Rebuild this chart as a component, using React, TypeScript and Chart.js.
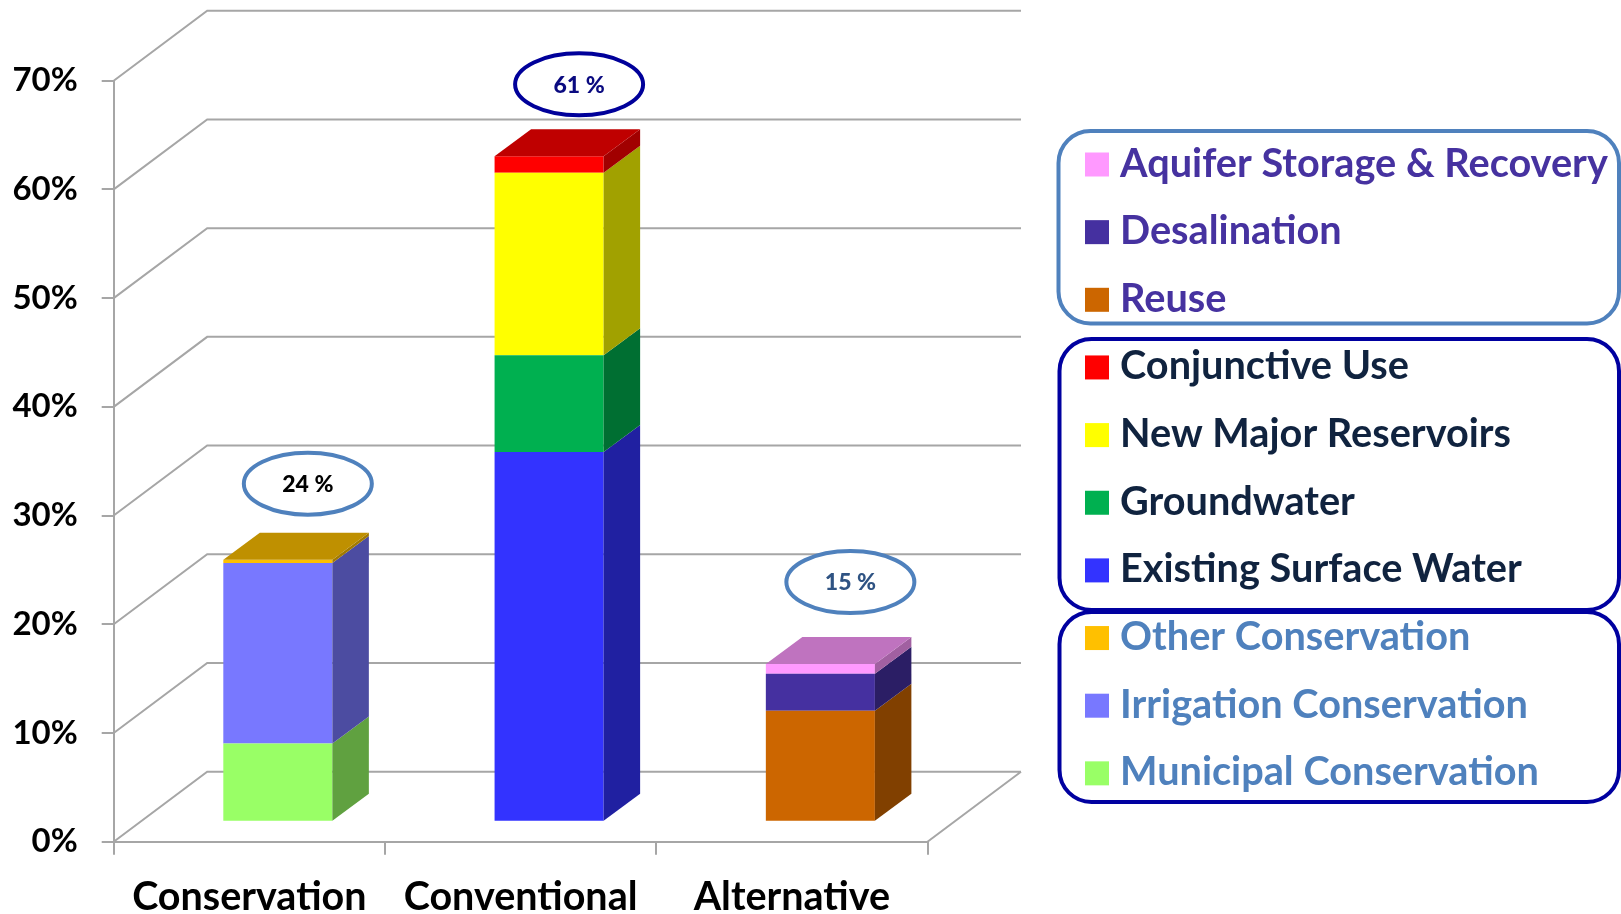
import React, { useEffect, useRef } from "react";
import { Chart, registerables } from "chart.js";

Chart.register(...registerables);

// ---------- data ----------
const categories = ["Conservation", "Conventional", "Alternative"];
const yTickValues = [0, 10, 20, 30, 40, 50, 60, 70];
const totalLabels = ["24 %", "61 %", "15 %"];

const municipalConservation = [7.2, 0, 0];
const irrigationConservation = [16.6, 0, 0];
const otherConservation = [0.3, 0, 0];
const existingSurfaceWater = [0, 34.0, 0];
const groundwater = [0, 8.9, 0];
const newMajorReservoirs = [0, 16.8, 0];
const conjunctiveUse = [0, 1.5, 0];
const reuse = [0, 0, 10.2];
const desalination = [0, 0, 3.4];
const aquiferStorageRecovery = [0, 0, 0.9];

const seriesNames = [
  "Municipal Conservation",
  "Irrigation Conservation",
  "Other Conservation",
  "Existing Surface Water",
  "Groundwater",
  "New Major Reservoirs",
  "Conjunctive Use",
  "Reuse",
  "Desalination",
  "Aquifer Storage & Recovery",
];
const seriesValues = [
  municipalConservation,
  irrigationConservation,
  otherConservation,
  existingSurfaceWater,
  groundwater,
  newMajorReservoirs,
  conjunctiveUse,
  reuse,
  desalination,
  aquiferStorageRecovery,
];
const seriesColors = [
  "#99FF66",
  "#7878FF",
  "#FFC000",
  "#3333FF",
  "#00B050",
  "#FFFF00",
  "#FF0000",
  "#CC6600",
  "#4530A0",
  "#FF99FF",
];

// legend groups (indices into series), top to bottom
const legendGroups = [
  [9, 8, 7],
  [6, 5, 4, 3],
  [2, 1, 0],
];

// ---------- styles ----------
const GRID = "#A6A6A6";
const DEPTH_X = 93.5;
const DEPTH_Y = -70;
const BAR_SHIFT_X = 28.5;
const BAR_SHIFT_Y = -20;
const SIDE_X = 36.5;
const SIDE_Y = -27;
const FONT = "Lato";

const ellipseStroke = ["#4F81BD", "#00009A", "#4F81BD"];
const ellipseText = ["#000000", "#0A0A80", "#2F5383"];
const ellipseDy = [-76, -72, -82];

const legendBoxes = [
  { x: 1058.5, y: 131, w: 560.5, h: 192.5, stroke: "#4F81BD", text: "#4632A0" },
  { x: 1059.5, y: 339, w: 559.5, h: 271, stroke: "#0000A0", text: "#10233F" },
  { x: 1059.5, y: 612, w: 559.5, h: 190, stroke: "#0000A0", text: "#4F81BD" },
];

function shade(hex: string, f: number) {
  const n = parseInt(hex.slice(1), 16);
  const r = Math.round(((n >> 16) & 255) * f);
  const g = Math.round(((n >> 8) & 255) * f);
  const b = Math.round((n & 255) * f);
  return `rgb(${r},${g},${b})`;
}

const threeD = {
  id: "threeD",
  beforeDatasetsDraw(chart: any) {
    const { ctx, chartArea, scales } = chart;
    const y = scales.y;
    ctx.save();
    ctx.strokeStyle = GRID;
    ctx.lineWidth = 2;
    ctx.lineJoin = "miter";
    ctx.beginPath();
    y.ticks.forEach((t: any) => {
      const py = y.getPixelForValue(t.value);
      ctx.moveTo(chartArea.left, py);
      ctx.lineTo(chartArea.left + DEPTH_X, py + DEPTH_Y);
      ctx.lineTo(chartArea.right + DEPTH_X, py + DEPTH_Y);
    });
    ctx.moveTo(chartArea.right, chartArea.bottom);
    ctx.lineTo(chartArea.right + DEPTH_X, chartArea.bottom + DEPTH_Y);
    ctx.stroke();
    ctx.restore();
    ctx.save();
    ctx.translate(BAR_SHIFT_X, BAR_SHIFT_Y);
  },
  afterDatasetsDraw(chart: any) {
    const ctx = chart.ctx;
    const n = chart.data.labels.length;
    for (let i = 0; i < n; i++) {
      let top: any = null;
      chart.data.datasets.forEach((ds: any, di: number) => {
        const v = ds.data[i];
        if (!v) return;
        const el = chart.getDatasetMeta(di).data[i];
        const { x, y, base, width } = el.getProps(["x", "y", "base", "width"], true);
        const right = x + width / 2;
        ctx.fillStyle = shade(ds.backgroundColor, 0.63);
        ctx.beginPath();
        ctx.moveTo(right, y);
        ctx.lineTo(right + SIDE_X, y + SIDE_Y);
        ctx.lineTo(right + SIDE_X, base + SIDE_Y);
        ctx.lineTo(right, base);
        ctx.closePath();
        ctx.fill();
        if (!top || y < top.y) top = { x, y, width, color: ds.backgroundColor };
      });
      if (top) {
        const l = top.x - top.width / 2;
        const r = top.x + top.width / 2;
        ctx.fillStyle = shade(top.color, 0.75);
        ctx.beginPath();
        ctx.moveTo(l, top.y);
        ctx.lineTo(l + SIDE_X, top.y + SIDE_Y);
        ctx.lineTo(r + SIDE_X, top.y + SIDE_Y);
        ctx.lineTo(r, top.y);
        ctx.closePath();
        ctx.fill();
      }
    }
    ctx.restore();
  },
  afterDraw(chart: any) {
    const { ctx, scales } = chart;
    const xs = scales.x;
    const ys = scales.y;
    // total ellipses
    categories.forEach((_, i) => {
      let total = 0;
      chart.data.datasets.forEach((ds: any) => (total += ds.data[i] || 0));
      const cx = xs.getPixelForValue(i) + BAR_SHIFT_X + 30;
      const cy = ys.getPixelForValue(total) + BAR_SHIFT_Y + ellipseDy[i];
      ctx.save();
      ctx.beginPath();
      ctx.ellipse(cx, cy, 64, 31, 0, 0, Math.PI * 2);
      ctx.lineWidth = 4;
      ctx.strokeStyle = ellipseStroke[i];
      ctx.fillStyle = "#FFFFFF";
      ctx.fill();
      ctx.stroke();
      ctx.fillStyle = ellipseText[i];
      ctx.font = `900 23px ${FONT}`;
      ctx.textAlign = "center";
      ctx.textBaseline = "middle";
      ctx.fillText(totalLabels[i], cx, cy + 1);
      ctx.restore();
    });

    // legend
    ctx.save();
    ctx.font = `bold 40px ${FONT}`;
    const w = ctx.measureText("Aquifer Storage & Recovery").width;
    const fs = (40 * 488) / w;
    let row = 0;
    legendGroups.forEach((g, gi) => {
      const b = legendBoxes[gi];
      ctx.beginPath();
      ctx.roundRect(b.x, b.y, b.w, b.h, 32);
      ctx.lineWidth = 4;
      ctx.strokeStyle = b.stroke;
      ctx.stroke();
      g.forEach((si) => {
        const cy = 164.5 + 67.65 * row;
        ctx.fillStyle = seriesColors[si];
        ctx.fillRect(1085, cy - 12, 24, 24);
        ctx.fillStyle = b.text;
        ctx.font = `bold ${fs}px ${FONT}`;
        ctx.textAlign = "left";
        ctx.textBaseline = "alphabetic";
        ctx.fillText(seriesNames[si], 1120, cy + 12);
        row++;
      });
    });
    ctx.restore();
  },
};

export default function App() {
  const ref = useRef<HTMLCanvasElement | null>(null);
  useEffect(() => {
    if (!ref.current) return;
    const chart = new Chart(ref.current, {
      type: "bar",
      data: {
        labels: categories,
        datasets: seriesNames.map((name, i) => ({
          label: name,
          data: seriesValues[i],
          backgroundColor: seriesColors[i],
          borderWidth: 0,
          categoryPercentage: 0.402,
          barPercentage: 1,
          clip: false as any,
        })),
      },
      options: {
        animation: false,
        responsive: false,
        devicePixelRatio: 1,
        layout: { padding: { top: 80.7, right: 1621 - 927.5, left: 0, bottom: 0 } },
        plugins: { legend: { display: false }, tooltip: { enabled: false } },
        scales: {
          x: {
            stacked: true,
            offset: true,
            afterFit: (s: any) => {
              s.height = 914 - 841.7;
            },
            grid: {
              offset: true,
              drawOnChartArea: false,
              drawTicks: true,
              tickLength: 13,
              color: GRID,
              lineWidth: 2,
            },
            border: { display: true, color: GRID, width: 2 },
            ticks: {
              color: "#000",
              font: { family: FONT, weight: "bold", size: 39.5 },
              padding: 19,
              maxRotation: 0,
            },
          },
          y: {
            stacked: true,
            min: 0,
            max: 70,
            afterFit: (s: any) => {
              s.width = 113.7;
            },
            afterBuildTicks: (s: any) => {
              s.ticks = yTickValues.map((v) => ({ value: v }));
            },
            grid: {
              drawOnChartArea: false,
              drawTicks: true,
              tickLength: 12,
              color: GRID,
              lineWidth: 2,
            },
            border: { display: true, color: GRID, width: 2 },
            ticks: {
              color: "#000",
              font: { family: FONT, weight: "bold", size: 33 },
              padding: 24,
              callback: (v: any) => `${v}%`,
            },
          },
        },
      },
      plugins: [threeD],
    });
    return () => chart.destroy();
  }, []);
  return (
    <div
      style={{
        position: "fixed",
        left: 0,
        top: 0,
        width: 1621,
        height: 914,
        background: "#FFFFFF",
      }}
    >
      <canvas ref={ref} width={1621} height={914} style={{ width: 1621, height: 914 }} />
    </div>
  );
}
